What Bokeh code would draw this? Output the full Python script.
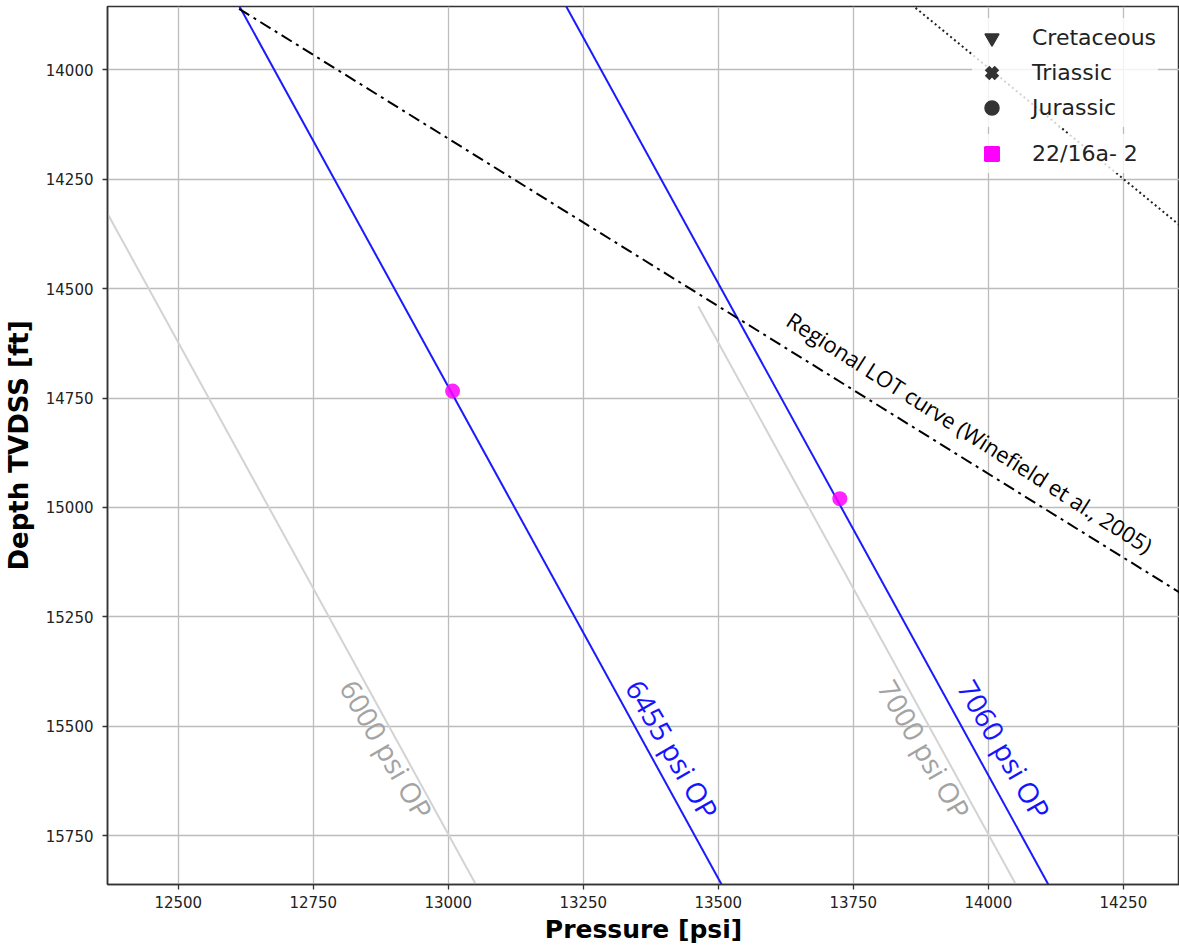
import math
from bokeh.plotting import figure
from bokeh.models import Range1d, FixedTicker, Legend, LegendItem, ColumnDataSource
from bokeh.core.properties import value
from bokeh.embed import file_html
from bokeh.resources import INLINE

# ---------------- data ----------------
x_ticks = [12500, 12750, 13000, 13250, 13500, 13750, 14000, 14250]
y_ticks = [14000, 14250, 14500, 14750, 15000, 15250, 15500, 15750]

# overpressure (OP) lines: end points (depth ft, pressure psi)
op_labels = ["6000 psi OP", "6455 psi OP", "7000 psi OP", "7060 psi OP"]
op_depth_start = [13800, 13800, 14540, 13800]
op_depth_end = [15900, 15900, 15900, 15900]
op_pressure_start = [12134, 12589, 13463, 13194]
op_pressure_end = [13068, 13523, 14068, 14128]

# regional LOT curve (Winefield et al., 2005)
lot_depth = [13800, 15300]
lot_pressure = [12534, 14492]

# dotted line (top right)
dotted_depth = [13800, 14500]
dotted_pressure = [13808, 14497]

# well 22/16a-2 points
well_pressure = [13008, 13725]
well_depth = [14734, 14980]

legend_names = ["Cretaceous", "Triassic", "Jurassic"]
well_name = "22/16a- 2"

# ---------------- styles / layout ----------------
op_colors = ["#d3d3d3", "#1a1aff", "#d3d3d3", "#1a1aff"]
op_text_colors = ["#a3a3a3", "#1414ff", "#a3a3a3", "#1414ff"]
op_text_x = [12886, 13415, 13882, 14030]
op_text_y = [15553, 15553, 15553, 15553]
lot_text_x = 13966
lot_text_y = 14828

p = figure(width=1179, height=949, output_backend="svg", toolbar_location=None,
           x_range=Range1d(12369, 14354), y_range=Range1d(15862, 13855),
           min_border_left=107, min_border_right=0, min_border_top=6, min_border_bottom=65)
p.background_fill_color = "white"
p.border_fill_color = "white"
p.outline_line_color = "#333333"
p.outline_line_width = 1.5

for ax, ticks in ((p.xaxis[0], x_ticks), (p.yaxis[0], y_ticks)):
    ax.ticker = FixedTicker(ticks=ticks)
    ax.axis_line_color = "#333333"
    ax.axis_line_width = 1.5
    ax.major_tick_line_color = "#333333"
    ax.major_tick_line_width = 1.3
    ax.major_tick_out = 5
    ax.major_tick_in = 0
    ax.minor_tick_line_color = None
    ax.major_label_text_font = "DejaVu Sans"
    ax.major_label_text_font_size = "15px"
    ax.major_label_text_color = "#222222"
    ax.axis_label_text_font = "DejaVu Sans"
    ax.axis_label_text_font_style = "bold"
    ax.axis_label_text_color = "black"

p.xaxis.axis_label = "Pressure [psi]"
p.yaxis.axis_label = "Depth TVDSS [ft]"
p.xaxis.axis_label_text_font_size = "25px"
p.yaxis.axis_label_text_font_size = "26px"
p.xaxis.major_label_standoff = 6
p.xaxis.axis_label_standoff = 4
p.yaxis.major_label_standoff = 9
p.yaxis.axis_label_standoff = 9

p.grid.grid_line_color = "#bcbcbc"
p.grid.grid_line_width = 1.3

# OP lines
for i in range(len(op_labels)):
    p.line([op_pressure_start[i], op_pressure_end[i]], [op_depth_start[i], op_depth_end[i]],
           line_color=op_colors[i], line_width=2)

# LOT curve
p.line(lot_pressure, lot_depth, line_color="black", line_width=2, line_dash="12 5 3 5")
# dotted
p.line(dotted_pressure, dotted_depth, line_color="#222222", line_width=2, line_dash="2 3")

# well points
p.scatter(well_pressure, well_depth, marker="circle", size=15, fill_color="#ff00ff",
          line_color=None, fill_alpha=0.85)

# labels
p.text(x=op_text_x, y=op_text_y, text=op_labels, angle=math.radians(-60),
       text_align="center", text_baseline="middle", text_font=value("Open Sans"),
       text_font_size="28px", text_color=op_text_colors)
p.text(x=[lot_text_x], y=[lot_text_y], text=["Regional LOT curve (Winefield et al., 2005)"],
       angle=math.radians(-32.5), text_align="center", text_baseline="middle",
       text_font=value("Open Sans"), text_font_size="22px", text_color="black")

# legend renderers (nothing plotted in view)
nan = float("nan")
def blank():
    return ColumnDataSource(dict(x=[nan], y=[nan]))
r_cre = p.scatter("x", "y", source=blank(), marker="inverted_triangle",
                  fill_color="#333333", line_color="#333333", line_width=1.5)
r_tri = p.scatter("x", "y", source=blank(), marker="x",
                  line_color="#333333", line_width=6.5)
r_jur = p.scatter("x", "y", source=blank(), marker="circle",
                  fill_color="#333333", line_color="#333333", line_width=1.5)
r_well = p.scatter("x", "y", source=blank(), marker="square",
                   fill_color="#ff00ff", line_color="#ff00ff", line_width=2)

def make_legend(items, loc):
    lg = Legend(items=items, location=loc, orientation="vertical")
    lg.glyph_width = 35
    lg.glyph_height = 35
    lg.label_height = 26
    lg.spacing = 0
    lg.padding = 2
    lg.margin = 0
    lg.label_standoff = 23
    lg.label_text_font = "DejaVu Sans"
    lg.label_text_font_size = "22px"
    lg.label_text_color = "#222222"
    lg.label_text_baseline = "middle"
    lg.border_line_alpha = 0
    lg.background_fill_color = "white"
    lg.background_fill_alpha = 0.8
    return lg

leg1 = make_legend([LegendItem(label=legend_names[0], renderers=[r_cre]),
                    LegendItem(label=legend_names[1], renderers=[r_tri]),
                    LegendItem(label=legend_names[2], renderers=[r_jur])], (865, 757))
leg2 = make_legend([LegendItem(label=well_name, renderers=[r_well])], (865, 711))
p.add_layout(leg1, "center")
p.add_layout(leg2, "center")

open("out.html", "w").write(file_html(p, INLINE))
